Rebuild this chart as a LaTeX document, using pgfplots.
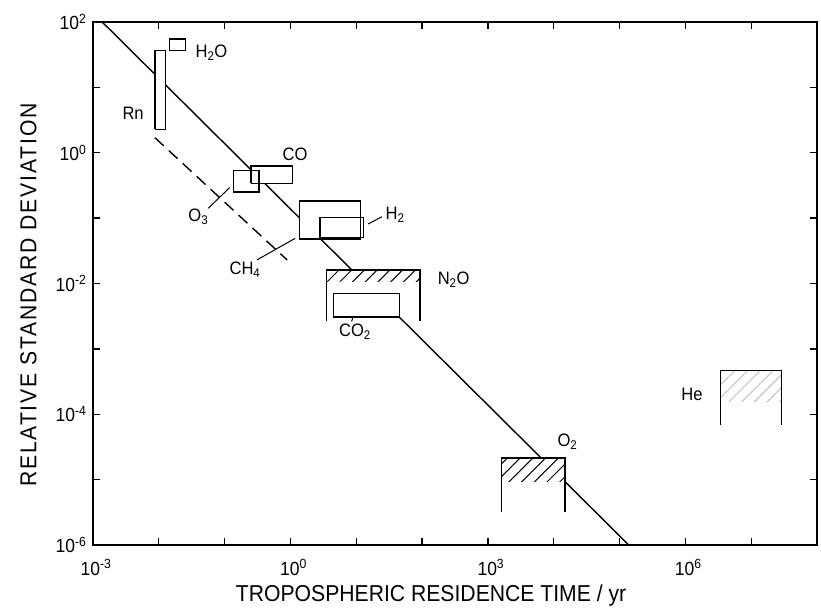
\documentclass[border=0pt]{standalone}
\usepackage{fontspec}
\setmainfont{Liberation Sans}[FakeStretch=0.92]
\newfontfamily\ylabfont{Liberation Sans}[FakeStretch=0.92, LetterSpace=8]
\usepackage{pgfplots}
\pgfplotsset{compat=1.18}
\usetikzlibrary{patterns.meta}
\begin{document}
\begin{tikzpicture}
\begin{axis}[
  at={(0pt,0pt)}, anchor=south west,
  scale only axis, width=724pt, height=523pt,
  xmode=log, ymode=log,
  xmin=1e-3, xmax=1e8, ymin=1e-6, ymax=1e2,
  xtick={1e-3,1e-2,1e-1,1,1e1,1e2,1e3,1e4,1e5,1e6,1e7,1e8},
  xticklabels={10\textsuperscript{-3},,,10\textsuperscript{0},,,10\textsuperscript{3},,,10\textsuperscript{6},,},
  ytick={1e-6,1e-5,1e-4,1e-3,1e-2,1e-1,1,1e1,1e2},
  yticklabels={10\textsuperscript{-6},,10\textsuperscript{-4},,10\textsuperscript{-2},,10\textsuperscript{0},,10\textsuperscript{2}},
  xminorticks=false, yminorticks=false,
  tick align=inside, major tick length=7pt,
  major tick style={line width=1.3pt, black},
  axis line style={line width=1.6pt},
  ticklabel style={font=\fontsize{19}{19}\selectfont},
  xticklabel style={yshift=-11pt, xshift=3pt},
  yticklabel style={xshift=-3pt},
  label style={font=\fontsize{23}{25}\selectfont},
  xlabel={TROPOSPHERIC RESIDENCE TIME / yr},
  ylabel={\ylabfont RELATIVE STANDARD DEVIATION},
  xlabel style={at={(axis description cs:0.467,-0.096)}, anchor=center},
  ylabel style={at={(axis description cs:-0.089,0.478)}, anchor=center},
  cycle list={{black, solid, mark=none}},
  every axis plot/.append style={mark=none, line width=1.4pt},
]
% main correlation line
\addplot coordinates {(0.00138,100) (138000,1e-6)};
% dashed line
\addplot[black, line width=1.4pt, dash pattern=on 12pt off 7pt] coordinates {(0.00871,1.70) (0.891,0.0229)};

% white fills (boxes hide the line)
\addplot[draw=none, fill=white] coordinates {(0.00871,2.29) (0.0126,2.29) (0.0126,36.3) (0.00871,36.3) (0.00871,2.29)};
\addplot[draw=none, fill=white] coordinates {(0.135,0.251) (0.331,0.251) (0.331,0.537) (0.135,0.537) (0.135,0.251)};
\addplot[draw=none, fill=white] coordinates {(0.251,0.339) (1.07,0.339) (1.07,0.631) (0.251,0.631) (0.251,0.339)};
\addplot[draw=none, fill=white] coordinates {(1.365,0.0479) (11.48,0.0479) (11.48,0.182) (1.365,0.182) (1.365,0.0479)};
\addplot[draw=none, fill=white] coordinates {(3.55,0.00309) (93.3,0.00309) (93.3,0.0162) (3.55,0.0162) (3.55,0.00309)};
\addplot[draw=none, fill=white] coordinates {(1622,3.24e-6) (14790,3.24e-6) (14790,2.14e-5) (1622,2.14e-5) (1622,3.24e-6)};

% hatching
\addplot[draw=none, pattern={Lines[angle=45, distance=9pt, line width=1pt]}] coordinates {(3.55,0.01072) (93.3,0.01072) (93.3,0.0162) (3.55,0.0162) (3.55,0.01072)};
\addplot[draw=none, pattern={Lines[angle=45, distance=9pt, line width=1pt]}] coordinates {(1622,9.33e-6) (14790,9.33e-6) (14790,2.14e-5) (1622,2.14e-5) (1622,9.33e-6)};
\addplot[draw=none, pattern={Lines[angle=45, distance=9pt, line width=0.8pt]}, pattern color=gray!60] coordinates {(3.39e6,1.55e-4) (2.88e7,1.55e-4) (2.88e7,4.68e-4) (3.39e6,4.68e-4) (3.39e6,1.55e-4)};

% outlines
% Rn
\addplot coordinates {(0.00871,2.29) (0.0126,2.29) (0.0126,36.3) (0.00871,36.3) (0.00871,2.29)};
% H2O
\addplot coordinates {(0.01445,36.3) (0.0257,36.3) (0.0257,55.0) (0.01445,55.0) (0.01445,36.3)};
% O3
\addplot coordinates {(0.135,0.251) (0.331,0.251) (0.331,0.537) (0.135,0.537) (0.135,0.251)};
% CO
\addplot coordinates {(0.251,0.339) (1.07,0.339) (1.07,0.631) (0.251,0.631) (0.251,0.339)};
% CH4
\addplot coordinates {(1.365,0.0479) (11.48,0.0479) (11.48,0.182) (1.365,0.182) (1.365,0.0479)};
% H2
\addplot coordinates {(2.82,0.0501) (12.9,0.0501) (12.9,0.102) (2.82,0.102) (2.82,0.0501)};
% N2O bracket
\addplot coordinates {(3.55,0.00263) (3.55,0.0162) (93.3,0.0162) (93.3,0.00263)};
% CO2
\addplot coordinates {(4.47,0.00309) (45.2,0.00309) (45.2,0.00708) (4.47,0.00708) (4.47,0.00309)};
% O2 bracket
\addplot coordinates {(1622,3.24e-6) (1622,2.14e-5) (14790,2.14e-5) (14790,3.24e-6)};
% He bracket
\addplot coordinates {(3.39e6,6.92e-5) (3.39e6,4.68e-4) (2.88e7,4.68e-4) (2.88e7,6.92e-5)};

% leader lines
\addplot[black, line width=1pt] coordinates {(0.0562,0.141) (0.120,0.295)};
\addplot[black, line width=1pt] coordinates {(0.309,0.0229) (1.175,0.049)};
\addplot[black, line width=1pt] coordinates {(15.1,0.0813) (24.5,0.105)};
\addplot[black, line width=1pt] coordinates {(8.5,0.00263) (9.0,0.00313)};

% labels
\begin{scope}[every node/.style={font=\fontsize{18}{18}\selectfont, anchor=center, inner sep=0pt}]
\node at (axis cs:0.0631,33.9) {H\textsubscript{2}O};
\node at (axis cs:0.00407,3.98) {Rn};
\node at (axis cs:1.175,0.955) {CO};
\node at (axis cs:0.0398,0.105) {O\textsubscript{3}};
\node at (axis cs:0.204,0.0162) {CH\textsubscript{4}};
\node at (axis cs:38.9,0.112) {H\textsubscript{2}};
\node at (axis cs:302,0.01148) {N\textsubscript{2}O};
\node at (axis cs:9.55,0.00182) {CO\textsubscript{2}};
\node at (axis cs:16200,3.8e-5) {O\textsubscript{2}};
\node at (axis cs:1.26e6,2.0e-4) {He};
\end{scope}
\end{axis}
\pgfresetboundingbox
\useasboundingbox (-93pt,-64pt) rectangle (728pt,545pt);
\end{tikzpicture}
\end{document}
